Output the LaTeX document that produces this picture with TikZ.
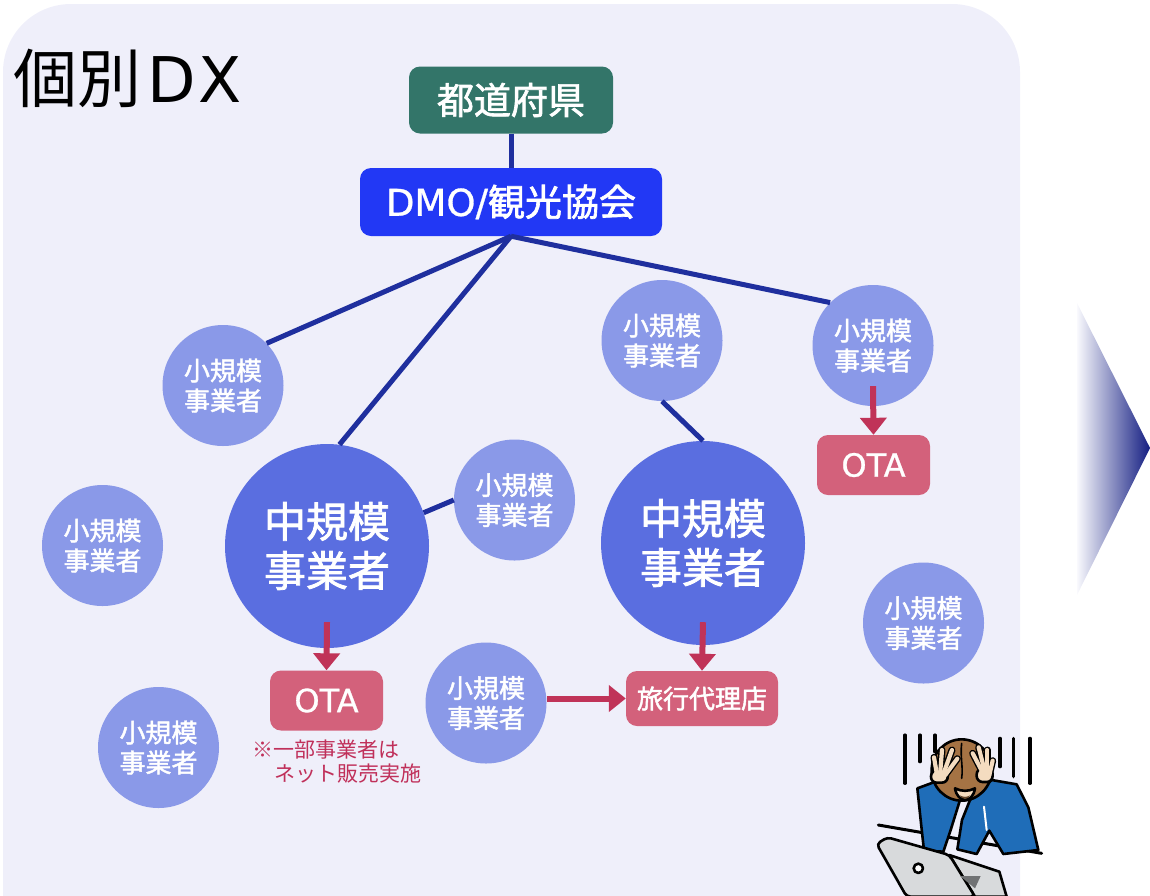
\documentclass[tikz,border=0pt]{standalone}
\usepackage{fontspec}
\setmainfont{Noto Sans CJK JP}
\newfontfamily\medfont{Noto Sans CJK JP}[FakeBold=1.8]
\newfontfamily\widelatin{DejaVu Sans}
\newfontfamily\medlatin{DejaVu Sans}[FakeBold=0.8]
\usetikzlibrary{arrows.meta}

\definecolor{bgc}{HTML}{EFEFFA}
\definecolor{smallc}{HTML}{8A99E8}
\definecolor{midc}{HTML}{5A6EE0}
\definecolor{prefc}{HTML}{337569}
\definecolor{dmoc}{HTML}{2238F5}
\definecolor{linkc}{HTML}{1F2F9E}
\definecolor{otac}{HTML}{D3617B}
\definecolor{arrc}{HTML}{C03358}
\definecolor{notec}{HTML}{C0305A}
\definecolor{navyc}{HTML}{141E82}
\definecolor{shirt}{HTML}{1F6DB8}
\definecolor{hairc}{HTML}{A57344}
\definecolor{skinc}{HTML}{F4DCC0}
\definecolor{lapc}{HTML}{D8DADC}
\definecolor{lapdark}{HTML}{707274}

\begin{document}
\begin{tikzpicture}[x=1pt,y=-1pt,
  small/.style={circle, fill=smallc, minimum size=121pt, inner sep=0pt,
    text=white, align=center, font=\medfont\fontsize{26}{30}\selectfont},
  mid/.style={circle, fill=midc, minimum size=204pt, inner sep=0pt,
    text=white, align=center, font=\medfont\fontsize{42}{49}\selectfont},
  boxbase/.style={rounded corners=11pt, inner sep=0pt, text=white},
  prefbox/.style={boxbase, fill=prefc, minimum width=204pt, minimum height=67pt,
    font=\medfont\fontsize{37}{37}\selectfont},
  dmobox/.style={boxbase, fill=dmoc, minimum width=302pt, minimum height=68pt,
    font=\medfont\fontsize{37}{37}\selectfont},
  otabox/.style={boxbase, fill=otac, minimum width=113pt, minimum height=60pt,
    font=\medlatin\fontsize{32}{32}\selectfont},
  agentbox/.style={boxbase, fill=otac, minimum width=152pt, minimum height=55pt,
    font=\medfont\fontsize{26}{26}\selectfont},
  link/.style={draw=linkc, line width=5pt},
  flow/.style={draw=arrc, line width=6pt, -{Triangle[width=26pt,length=17pt]}},
  fingerline/.style={line width=7pt, line cap=round},
  fingerfill/.style={skinc, line width=4.2pt, line cap=round},
]
\useasboundingbox (0,0) rectangle (1150,895);

% panel
\fill[bgc, rounded corners=68pt] (3,4) rectangle (1020,1000);

% title
\node[anchor=west, inner sep=0pt, font=\fontsize{64}{64}\selectfont] (title) at (13,78)
  {個別{\widelatin\fontsize{63}{63}\selectfont\hspace{6pt}D\hspace{3pt}X}};

% top hierarchy
\node[prefbox] (pref) at (511,100) {都道府県};
\node[dmobox] (dmo) at (511,202) {{\medlatin\fontsize{37}{37}\selectfont DMO/}観光協会};

% businesses
\node[small] (s1) at (223,385.5) {小規模\\事業者};
\node[small] (s2) at (102.5,545.5) {小規模\\事業者};
\node[small] (s3) at (158.5,747.5) {小規模\\事業者};
\node[small] (s4) at (514.5,500) {小規模\\事業者};
\node[small] (s5) at (486,703) {小規模\\事業者};
\node[small] (s6) at (662,340.5) {小規模\\事業者};
\node[small] (s7) at (873,345.5) {小規模\\事業者};
\node[small] (s8) at (923.5,623) {小規模\\事業者};
\node[mid] (m1) at (327,546) {中規模\\事業者};
\node[mid] (m2) at (703,543) {中規模\\事業者};

% sales channels
\node[otabox] (ota1) at (326.5,700.5) {OTA};
\node[otabox] (ota2) at (873.5,465) {OTA};
\node[agentbox] (agent) at (702,698.5) {旅行代理店};
\node[anchor=north west, inner sep=0pt, align=left, text=notec,
  font=\fontsize{21}{24}\selectfont] (note) at (252,740)
  {※一部事業者は\\\hspace*{22pt}ネット販売実施};

% connections
\draw[link] (pref.south) -- (dmo.north);
\draw[link] (dmo.south) -- (s1.44);
\draw[link] (dmo.south) -- (m1.83);
\draw[link] (dmo.south) -- (s7.135);
\draw[link] (s6.270) -- (m2.90);
\draw[link] (m1.19) -- (s4.180);

% sales flows
\draw[flow] ([yshift=26pt]m1.south) -- (ota1.north);
\draw[flow] ([yshift=20pt]s7.south) -- (ota2.north);
\draw[flow] ([yshift=23pt]m2.south) -- (agent.north);
\draw[flow] (s5.east |- agent.west) -- (agent.west);

% transition arrow
\shade[left color=bgc!40!white, right color=navyc]
  (1077,303) -- (1150,448) -- (1077,595) -- cycle;

% worried person at a laptop
\begin{scope}[shift={(860,720)}, x=0.3333pt, y=-0.3333pt,
  line width=2.6pt, line join=round, line cap=round]
  \foreach \xx/\ya/\yb in {135/45/190, 180/45/125, 225/45/95,
                           420/55/140, 460/55/170, 510/55/190}
    \draw[line width=3.2pt] (\xx,\ya) -- (\xx,\yb);
  \draw[line width=3pt] (55,315) -- (545,400);
  % arms and shoulders
  \filldraw[fill=shirt] (172,205) -- (240,180) -- (300,240) -- (272,330)
    -- (250,395) -- (192,392) -- (182,300) -- cycle;
  \filldraw[fill=shirt] (330,240) -- (395,180) -- (470,193) -- (505,262)
    -- (535,390) -- (430,402) -- (388,332) -- (350,402) -- (292,388)
    -- (306,300) -- cycle;
  \draw[white, line width=2pt] (372,260) -- (380,330);
  % head bowed over the desk
  \filldraw[fill=hairc] (305,150) ellipse [x radius=90, y radius=92];
  \draw[line width=1.6pt] (305,70) .. controls (300,110) and (310,140) .. (305,175);
  \filldraw[fill=skinc] (285,205) .. controls (292,250) and (338,252) .. (345,205)
    .. controls (325,215) and (305,215) .. cycle;
  \fill[hairc!60!black] (300,226) .. controls (308,240) and (322,240) .. (330,226)
    .. controls (320,232) and (310,232) .. cycle;
  % hands gripping the head: outlined fingers over a palm
  \foreach \ax/\ay/\bx/\by in {232/170/222/112, 240/165/246/90,
                               250/162/276/90, 256/165/292/116,
                               372/165/338/100, 376/160/356/82,
                               382/160/382/90, 388/165/398/122} {
    \draw[fingerline] (\ax,\ay) -- (\bx,\by);
  }
  \filldraw[fill=skinc, rounded corners=6pt] (212,188) -- (214,150) -- (262,145)
    -- (264,188) -- cycle;
  \filldraw[fill=skinc, rounded corners=6pt] (350,186) -- (350,145) -- (398,145)
    -- (398,186) -- cycle;
  \foreach \ax/\ay/\bx/\by in {232/170/222/112, 240/165/246/90,
                               250/162/276/90, 256/165/292/116,
                               372/165/338/100, 376/160/356/82,
                               382/160/382/90, 388/165/398/122} {
    \draw[fingerfill] (\ax,\ay) -- (\bx,\by);
  }
  % laptop
  \filldraw[fill=lapc] (268,405) -- (418,455) -- (440,530) -- (345,530) -- cycle;
  \filldraw[fill=lapc, rounded corners=4pt] (50,372) -- (82,352) -- (268,405)
    -- (345,530) -- (140,530) -- cycle;
  \fill[lapdark] (300,468) -- (362,468) -- (345,505) -- cycle;
  \filldraw[fill=white] (175,445) circle [radius=14];
\end{scope}
\end{tikzpicture}
\end{document}
